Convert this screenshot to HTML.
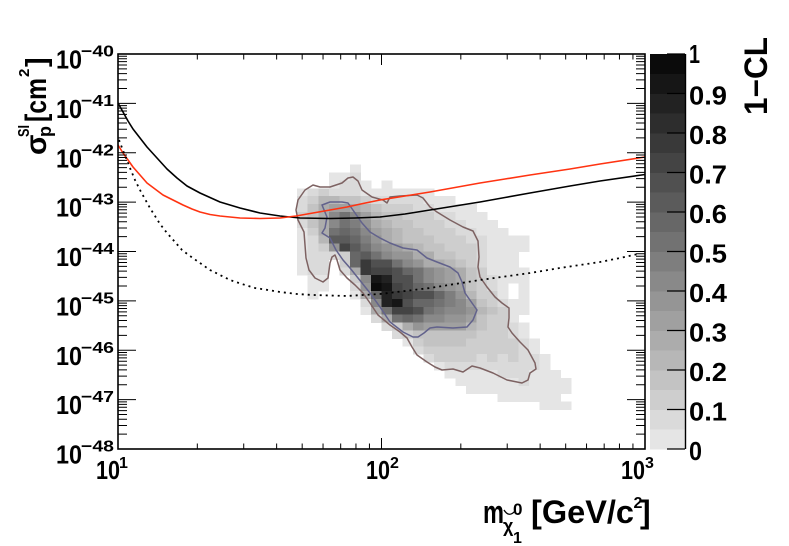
<!DOCTYPE html>
<html><head><meta charset="utf-8">
<style>
html,body{margin:0;padding:0;background:#fff}
svg{display:block}
text{font-family:"Liberation Sans",Arial,sans-serif;font-weight:bold;fill:#000}
</style></head>
<body>
<svg id="s" xmlns="http://www.w3.org/2000/svg" width="789" height="546" viewBox="0 0 789 546">
<rect width="789" height="546" fill="#fff"/>
<g id="hist" shape-rendering="crispEdges"></g>
<g id="cb" shape-rendering="crispEdges"></g>

<!-- contours -->
<polygon fill="none" stroke="#7d6262" stroke-width="1.5" stroke-linejoin="round" points="305,190 313,185 320,187 330,187 342,183 348,178 353,177 358,181 362,190 372,197 383,200 387,203 390,197 400,196 417,195 423,198 430,207 437,212 450,220 463,227 473,231 478,241 479,257 478,267 480,277 487,287 495,297 502,303 509,308 509,318 508,327 512,333 520,342 528,350 535,363 536,369 530,373 528,380 522,383 507,380 493,373 480,368 472,366 463,372 453,369 442,370 435,367 427,362 417,355 412,347 407,338 400,332 390,325 378,315 370,303 363,293 355,285 347,278 340,270 337,260 335,255 332,257 330,263 328,278 323,282 315,278 309,270 306,258 305,245 304,232 298,220 296,210 298,200"/>
<polygon fill="none" stroke="#62628c" stroke-width="1.5" stroke-linejoin="round" points="322,205 330,202 342,202 348,203 355,213 362,223 370,232 380,238 390,243 403,248 417,250 427,258 437,262 450,267 458,273 462,282 465,293 472,303 477,310 473,320 467,327 453,328 437,327 430,328 424,333 418,337 413,337 403,332 390,322 380,307 370,293 362,283 350,268 343,260 336,250 330,238 322,233 325,228 327,217"/>

<!-- curves -->
<polyline fill="none" stroke="#000" stroke-width="1.6" stroke-linejoin="round" points="118,103 123,112 128,121 133,129 140,138 147,147 157,158 167,169 177,178 187,186 200,193 220,202 240,208 260,213 280,216 300,218 330,218.5 355,218 380,217 405,214 430,210 455,206 480,202 505,197.5 530,193 550,189.5 570,186 600,181 645,174.5"/>
<polyline fill="none" stroke="#ff3311" stroke-width="1.6" stroke-linejoin="round" points="118,145 123,153 128,160 133,167 140,175 147,183 155,189 163,195 173,200 183,205 192,209 200,212 210,214.5 220,216 240,218 260,218.5 280,218 296,216 313,213 330,210 347,207 363,203.5 380,200 405,196 430,192 455,187.5 480,183 505,179 530,175 550,172 570,169 600,164 645,157"/>
<polyline fill="none" stroke="#000" stroke-width="1.8" stroke-dasharray="2 4" points="119,140 124,153 130,168 135,180 140,190 145,199 150,208 155,216 160,224 167,233 175,242 182,250 190,256 200,263 210,270 220,275 230,280 242,284 255,288 268,290 280,292 297,294 313,295 330,295.5 347,296 363,295 380,294 405,291 430,288 455,284 480,280 505,276.5 530,273 545,270.5 560,268 580,265 600,262 620,258 638,254"/>

<!-- frame & ticks -->
<rect x="118" y="54" width="527" height="395" fill="none" stroke="#000" stroke-width="1.6"/>
<path id="ticks" fill="none" stroke="#000" stroke-width="1"/>
<line x1="685.5" y1="54" x2="685.5" y2="449" stroke="#000" stroke-width="1.4"/>
<path id="cbticks" fill="none" stroke="#000" stroke-width="1.2"/>

<!-- y tick labels -->
<g font-size="26">
<text x="56" y="68.5" textLength="26" lengthAdjust="spacingAndGlyphs">10</text>
<text x="56" y="117.9" textLength="26" lengthAdjust="spacingAndGlyphs">10</text>
<text x="56" y="167.3" textLength="26" lengthAdjust="spacingAndGlyphs">10</text>
<text x="56" y="216.6" textLength="26" lengthAdjust="spacingAndGlyphs">10</text>
<text x="56" y="266" textLength="26" lengthAdjust="spacingAndGlyphs">10</text>
<text x="56" y="315.4" textLength="26" lengthAdjust="spacingAndGlyphs">10</text>
<text x="56" y="364.8" textLength="26" lengthAdjust="spacingAndGlyphs">10</text>
<text x="56" y="414.1" textLength="26" lengthAdjust="spacingAndGlyphs">10</text>
<text x="56" y="463.5" textLength="26" lengthAdjust="spacingAndGlyphs">10</text>
</g>
<g font-size="16">
<text x="81" y="56.5" textLength="33" lengthAdjust="spacingAndGlyphs">−40</text>
<text x="81" y="105.9" textLength="33" lengthAdjust="spacingAndGlyphs">−41</text>
<text x="81" y="155.3" textLength="33" lengthAdjust="spacingAndGlyphs">−42</text>
<text x="81" y="204.6" textLength="33" lengthAdjust="spacingAndGlyphs">−43</text>
<text x="81" y="254" textLength="33" lengthAdjust="spacingAndGlyphs">−44</text>
<text x="81" y="303.4" textLength="33" lengthAdjust="spacingAndGlyphs">−45</text>
<text x="81" y="352.8" textLength="33" lengthAdjust="spacingAndGlyphs">−46</text>
<text x="81" y="402.1" textLength="33" lengthAdjust="spacingAndGlyphs">−47</text>
<text x="81" y="451.5" textLength="33" lengthAdjust="spacingAndGlyphs">−48</text>
</g>

<!-- x tick labels -->
<g font-size="26">
<text x="96" y="479" textLength="24" lengthAdjust="spacingAndGlyphs">10</text>
<text x="366" y="479" textLength="24" lengthAdjust="spacingAndGlyphs">10</text>
<text x="621" y="479" textLength="24" lengthAdjust="spacingAndGlyphs">10</text>
</g>
<g font-size="16">
<text x="119" y="468">1</text>
<text x="390" y="468">2</text>
<text x="645" y="468">3</text>
</g>

<!-- x title -->
<text x="483" y="523" font-size="32" textLength="21" lengthAdjust="spacingAndGlyphs">m</text>
<path d="M504,510 Q509,518 515,511" fill="none" stroke="#000" stroke-width="1.3"/>
<text x="513" y="515" font-size="17">0</text>
<text x="503" y="532" font-size="18">χ</text>
<text x="513" y="543" font-size="16">1</text>
<text x="531" y="523" font-size="32" textLength="103" lengthAdjust="spacingAndGlyphs">[GeV/c</text>
<text x="633.5" y="508" font-size="16">2</text>
<text x="640" y="523" font-size="32">]</text>

<!-- y title -->
<g transform="translate(46,155) rotate(-90)">
<text x="0" y="0" font-size="30">σ</text>
<text x="18" y="5" font-size="18">p</text>
<text x="18" y="-17" font-size="16" textLength="12" lengthAdjust="spacingAndGlyphs">SI</text>
<text x="33" y="0" font-size="30" textLength="44" lengthAdjust="spacingAndGlyphs">[cm</text>
<text x="78" y="-17" font-size="15">2</text>
<text x="88" y="0" font-size="29">]</text>
</g>

<!-- colorbar labels -->
<g font-size="26">
<text x="689" y="460" textLength="13" lengthAdjust="spacingAndGlyphs">0</text>
<text x="689" y="420.5" textLength="38" lengthAdjust="spacingAndGlyphs">0.1</text>
<text x="689" y="381" textLength="38" lengthAdjust="spacingAndGlyphs">0.2</text>
<text x="689" y="341.5" textLength="38" lengthAdjust="spacingAndGlyphs">0.3</text>
<text x="689" y="302" textLength="38" lengthAdjust="spacingAndGlyphs">0.4</text>
<text x="689" y="262.5" textLength="38" lengthAdjust="spacingAndGlyphs">0.5</text>
<text x="689" y="223" textLength="38" lengthAdjust="spacingAndGlyphs">0.6</text>
<text x="689" y="183.5" textLength="38" lengthAdjust="spacingAndGlyphs">0.7</text>
<text x="689" y="144" textLength="38" lengthAdjust="spacingAndGlyphs">0.8</text>
<text x="689" y="104.5" textLength="38" lengthAdjust="spacingAndGlyphs">0.9</text>
<text x="689" y="63" textLength="11" lengthAdjust="spacingAndGlyphs">1</text>
</g>
<text transform="translate(767,115) rotate(-90)" font-size="32" textLength="78" lengthAdjust="spacingAndGlyphs">1−CL</text>
</svg>

<script>
(function(){
var NS="http://www.w3.org/2000/svg";
function el(tag,a,p){var e=document.createElementNS(NS,tag);for(var k in a)e.setAttribute(k,a[k]);p.appendChild(e);return e;}
function gr(L){var v=Math.round(229-11.5*L);return "rgb("+v+","+v+","+v+")";}
var H=[
[35,22,"0"],
[34,20,"001"],
[33,20,"0110.0"],
[32,17,"0121110000000"],
[31,17,"124433211111000"],
[30,17,"13566543222110000"],
[29,17,"2358a8643322211000"],
[28,17,"1358a97543322211000"],
[27,17,"025aba86543322211000"],
[26,17,"014ccb9754333222110000"],
[25,17,"0127eca876543322210000"],
[24,17,"01112bca8775533221000"],
[23,17,"011.2bfdda87554321000"],
[22,17,"011.15feedba8765320000"],
[21,18,"00..28ihdda8765321000"],
[20,18,"00..17jiedba8763210.0"],
[19,18,"0...05bhfeddb974220.0"],
[18,23,"18hidbba98632100"],
[17,23,"05aeeda988743200"],
[16,24,"15aba887763220"],
[15,25,"12576666432210"],
[14,26,"1233333322210"],
[13,27,"0233332222210"],
[12,28,"122222222210"],
[11,29,"122221212110"],
[10,30,"01111111110"],
[9,31,"00000111000"],
[8,32,"00000010000"],
[7,33,"0000000000"],
[6,36,"000000"],
[5,40,"000"]];
var hist=document.getElementById("hist");
var DX=10.54,DY=7.9;
H.forEach(function(r){
  var j=r[0],k0=r[1],s=r[2];
  for(var i=0;i<s.length;i++){
    var c=s.charAt(i); if(c===".")continue;
    var L=parseInt(c,20);
    el("rect",{x:(118+DX*(k0+i)).toFixed(2),y:(449-DY*(j+1)).toFixed(2),width:(DX+0.4).toFixed(2),height:(DY+0.4).toFixed(2),fill:gr(L)},hist);
  }
});
var cb=document.getElementById("cb");
for(var L=0;L<20;L++){
  el("rect",{x:650,y:(449-19.75*(L+1)).toFixed(2),width:35,height:(19.75+0.4).toFixed(2),fill:gr(L)},cb);
}
var d="";
for(var n=0;n<=8;n++){
  var yb=449-49.375*n;
  d+="M118 "+yb.toFixed(2)+"h18M645 "+yb.toFixed(2)+"h-18";
  if(n<8){
    for(var m=2;m<=9;m++){
      var y=(yb-49.375*Math.log10(m)).toFixed(2);
      d+="M118 "+y+"h9M645 "+y+"h-9";
    }
  }
}
for(var n2=0;n2<=2;n2++){
  var xb=118+263.5*n2;
  d+="M"+xb.toFixed(2)+" 449v-11M"+xb.toFixed(2)+" 54v11";
  if(n2<2){
    for(var m2=2;m2<=9;m2++){
      var x=(xb+263.5*Math.log10(m2)).toFixed(2);
      d+="M"+x+" 449v-5.5M"+x+" 54v5.5";
    }
  }
}
document.getElementById("ticks").setAttribute("d",d);
var d2="";
for(var v=0;v<=10;v++){var yy=(449-39.5*v).toFixed(2);d2+="M685 "+yy+"h-18";}
document.getElementById("cbticks").setAttribute("d",d2);
})();
</script>
</body></html>
